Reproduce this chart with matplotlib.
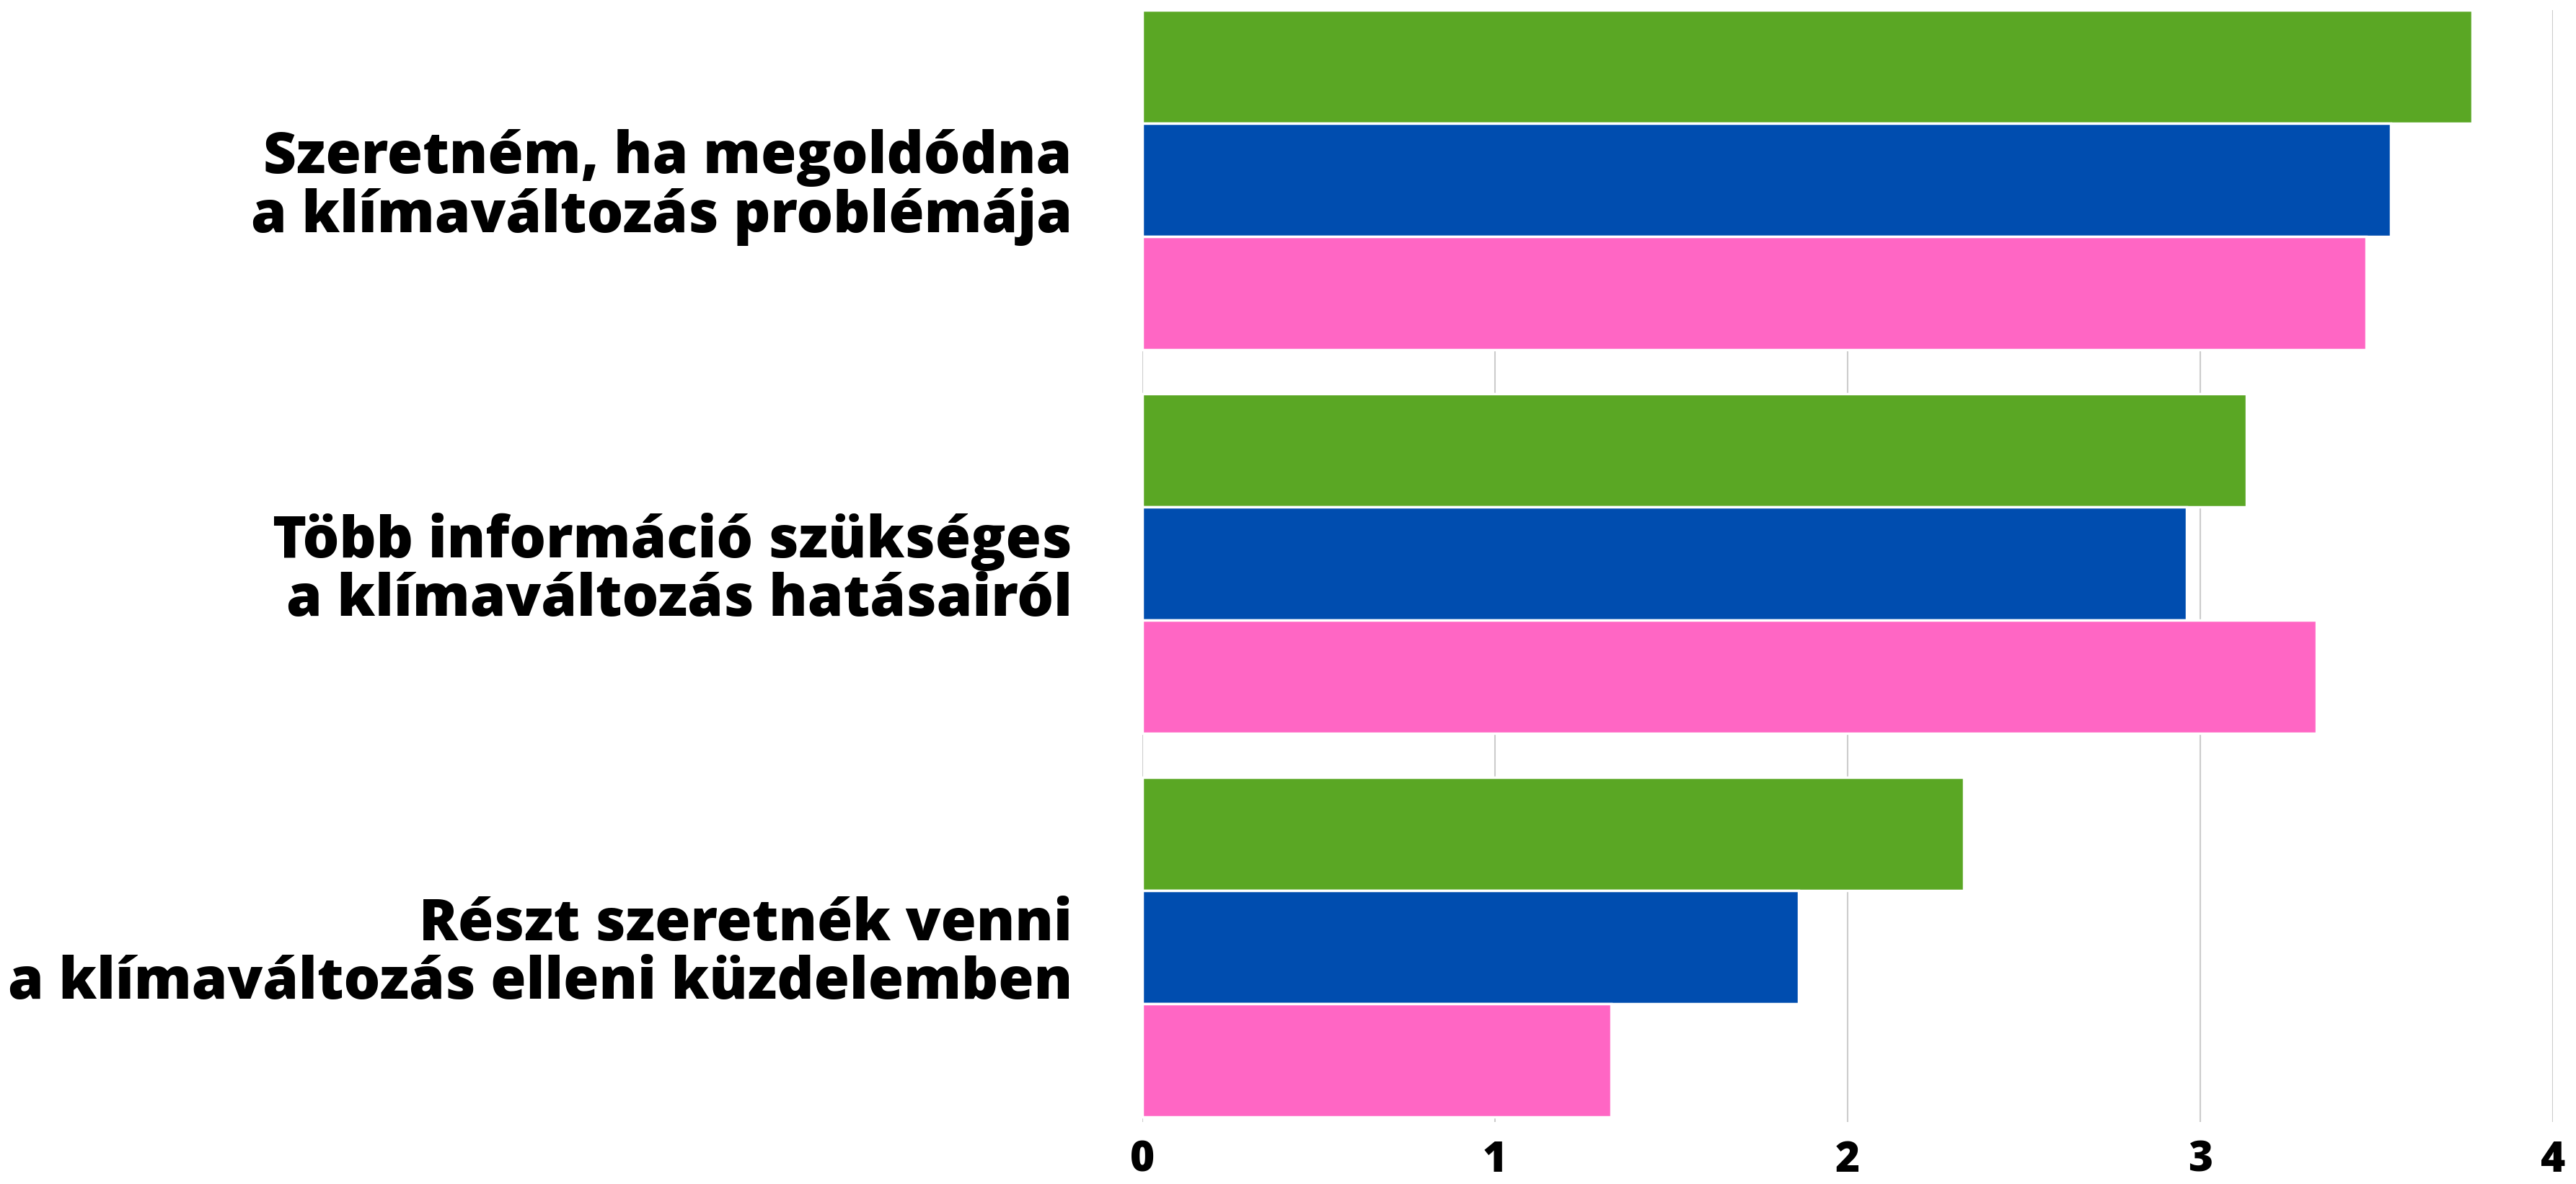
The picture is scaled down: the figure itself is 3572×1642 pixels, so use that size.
from matplotlib import pyplot as plt
import numpy as np

categories = [
    "Szeretném, ha megoldódna\na klímaváltozás problémája",
    "Több információ szükséges\na klímaváltozás hatásairól",
    "Részt szeretnék venni\na klímaváltozás elleni küzdelemben",
]
green_vals = [3.77, 3.13, 2.33]
blue_vals = [3.54, 2.96, 1.86]
pink_vals = [3.47, 3.33, 1.33]
series_colors = ["#5AA724", "#004DAF", "#FF66C4"]
xticks = [0, 1, 2, 3, 4]

plt.rcParams['font.family'] = ['Open Sans', 'DejaVu Sans']

fig = plt.figure(figsize=(35.73, 16.42), dpi=100)
ax = fig.add_axes([0.4433, 0.0524, 0.9908 - 0.4433, 0.9915 - 0.0524])

y = np.arange(len(categories))
h = 0.2955
for i, (vals, col) in enumerate(zip([green_vals, blue_vals, pink_vals], series_colors)):
    ax.barh(y + (i - 1) * h, vals, height=h, color=col,
            edgecolor="white", linewidth=2.5, zorder=3)

ax.set_xlim(0, 4)
ax.set_ylim(2.456, -0.443)
ax.set_xticks(xticks)
ax.set_xticklabels([str(t) for t in xticks], fontsize=42, fontweight="heavy")
ax.set_yticks(y)
ax.set_yticklabels(categories, fontsize=57.5, fontweight="heavy", linespacing=1.02)
ax.tick_params(axis="x", length=0, pad=17)
ax.tick_params(axis="y", length=0, pad=70)
ax.grid(axis="x", color="#cccccc", linewidth=1.5, zorder=0)
for s in ax.spines.values():
    s.set_visible(False)

fig.savefig("out.png", dpi=100)
